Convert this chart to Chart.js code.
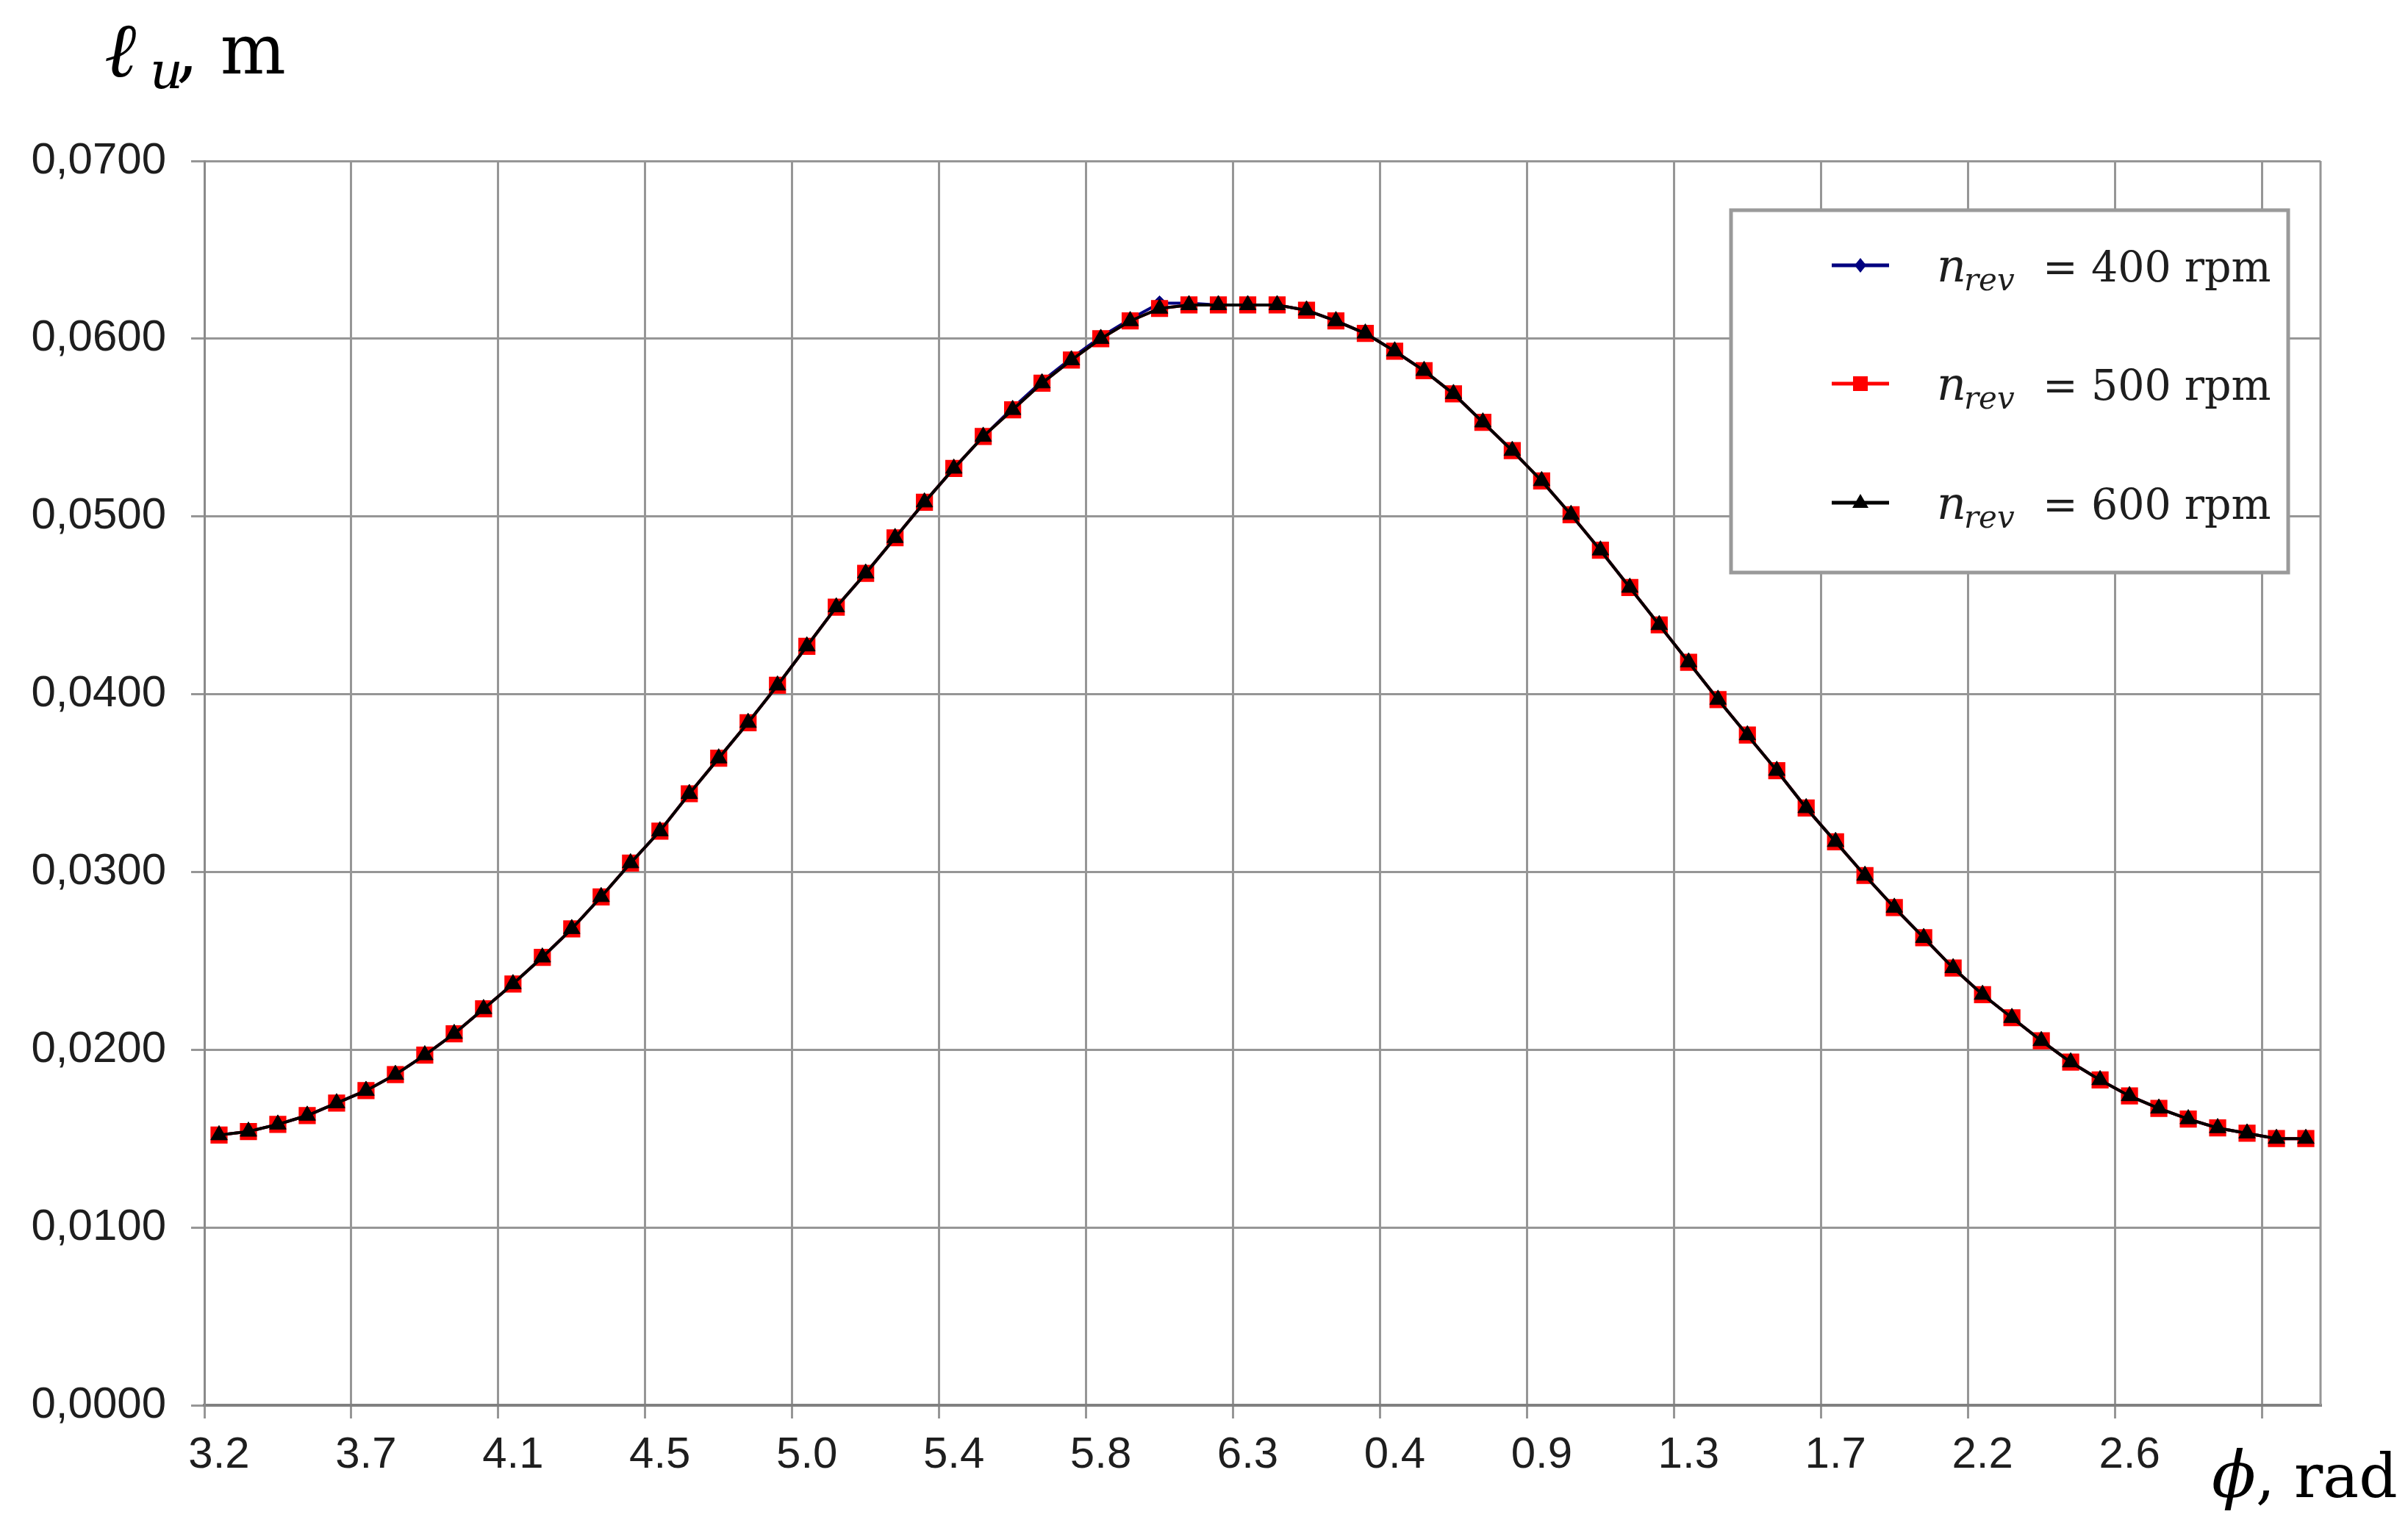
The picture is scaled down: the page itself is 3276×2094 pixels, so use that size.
<!DOCTYPE html>
<html>
<head>
<meta charset="utf-8">
<script src="https://cdn.jsdelivr.net/npm/chart.js@4.4.1/dist/chart.umd.min.js"></script>
<style>
  html, body { margin: 0; padding: 0; background: #fff; }
  #wrap { width: 3276px; height: 2094px; }
</style>
</head>
<body>
<div id="wrap"><canvas id="luChart" width="3276" height="2094"></canvas></div>
<script>
// phi, rad (category labels, only every 5th is shown)
const phiLabels = [
  '3.2','3.3','3.4','3.5','3.6','3.7','3.8','3.8','3.9','4.0',
  '4.1','4.2','4.3','4.4','4.5','4.5','4.6','4.7','4.8','4.9',
  '5.0','5.1','5.1','5.2','5.3','5.4','5.5','5.6','5.7','5.8',
  '5.8','5.9','6.0','6.1','6.2','6.3','0.1','0.2','0.3','0.3',
  '0.4','0.5','0.6','0.7','0.8','0.9','1.0','1.0','1.1','1.2',
  '1.3','1.4','1.5','1.6','1.7','1.7','1.8','1.9','2.0','2.1',
  '2.2','2.3','2.4','2.4','2.5','2.6','2.7','2.8','2.9','3.0',
  '3.1','3.1'
];

// l_u, m
const lu400 = [
  0.0152,0.0154,0.0158,0.0163,0.0170,0.0177,0.0186,0.0197,0.0209,0.0223,
  0.0237,0.0252,0.0268,0.0286,0.0305,0.0323,0.0344,0.0364,0.0384,0.0405,
  0.0427,0.0449,0.0468,0.0488,0.0508,0.0527,0.0545,0.0561,0.0576,0.0589,
  0.0601,0.0611,0.0620,0.0620,0.0619,0.0619,0.0619,0.0616,0.0610,0.0603,
  0.0593,0.0582,0.0569,0.0553,0.0537,0.0520,0.0501,0.0481,0.0460,0.0439,
  0.0418,0.0397,0.0377,0.0357,0.0336,0.0317,0.0298,0.0280,0.0263,0.0246,
  0.0231,0.0218,0.0205,0.0193,0.0183,0.0174,0.0167,0.0161,0.0156,0.0153,
  0.0150,0.0150
];
const lu500 = [
  0.0152,0.0154,0.0158,0.0163,0.0170,0.0177,0.0186,0.0197,0.0209,0.0223,
  0.0237,0.0252,0.0268,0.0286,0.0305,0.0323,0.0344,0.0364,0.0384,0.0405,
  0.0427,0.0449,0.0468,0.0488,0.0508,0.0527,0.0545,0.0560,0.0575,0.0588,
  0.0600,0.0610,0.0617,0.0619,0.0619,0.0619,0.0619,0.0616,0.0610,0.0603,
  0.0593,0.0582,0.0569,0.0553,0.0537,0.0520,0.0501,0.0481,0.0460,0.0439,
  0.0418,0.0397,0.0377,0.0357,0.0336,0.0317,0.0298,0.0280,0.0263,0.0246,
  0.0231,0.0218,0.0205,0.0193,0.0183,0.0174,0.0167,0.0161,0.0156,0.0153,
  0.0150,0.0150
];
const lu600 = [
  0.0152,0.0154,0.0158,0.0163,0.0170,0.0177,0.0186,0.0197,0.0209,0.0223,
  0.0237,0.0252,0.0268,0.0286,0.0305,0.0323,0.0344,0.0364,0.0384,0.0405,
  0.0427,0.0449,0.0468,0.0488,0.0508,0.0527,0.0545,0.0560,0.0575,0.0588,
  0.0600,0.0610,0.0617,0.0619,0.0619,0.0619,0.0619,0.0616,0.0610,0.0603,
  0.0593,0.0582,0.0569,0.0553,0.0537,0.0520,0.0501,0.0481,0.0460,0.0439,
  0.0418,0.0397,0.0377,0.0357,0.0336,0.0317,0.0298,0.0280,0.0263,0.0246,
  0.0231,0.0218,0.0205,0.0193,0.0183,0.0174,0.0167,0.0161,0.0156,0.0153,
  0.0150,0.0150
];
const rpmValues = ['400', '500', '600'];

const gridGrey = '#969696';
const textDark = '#1e1e1e';

// only every 5th category gets a gridline / tick mark
function everyFifth(ctx) {
  return (ctx.index !== undefined && ctx.index % 5 === 0) ? gridGrey : 'rgba(0,0,0,0)';
}

function drawMarker(ctx, style, color, x, y) {
  ctx.save();
  ctx.fillStyle = color;
  ctx.beginPath();
  if (style === 'rect') {
    ctx.rect(x - 10, y - 10, 20, 20);
  } else if (style === 'triangle') {
    ctx.moveTo(x, y - 12);
    ctx.lineTo(x + 11, y + 7);
    ctx.lineTo(x - 11, y + 7);
    ctx.closePath();
  } else {
    ctx.moveTo(x, y - 10);
    ctx.lineTo(x + 8, y);
    ctx.lineTo(x, y + 10);
    ctx.lineTo(x - 8, y);
    ctx.closePath();
  }
  ctx.fill();
  ctx.restore();
}

const decor = {
  id: 'decor',
  afterDraw(chart) {
    const ctx = chart.ctx;
    const area = chart.chartArea;
    ctx.save();

    // right border of plot area
    ctx.strokeStyle = gridGrey;
    ctx.lineWidth = 3;
    ctx.beginPath();
    ctx.moveTo(area.right, area.top);
    ctx.lineTo(area.right, area.bottom);
    ctx.stroke();

    // legend box
    const bx = 2355, by = 286, bw = 758, bh = 493;
    ctx.fillStyle = '#fff';
    ctx.fillRect(bx, by, bw, bh);
    ctx.strokeStyle = '#9a9a9a';
    ctx.lineWidth = 5;
    ctx.strokeRect(bx, by, bw, bh);

    const rowY = [361, 522, 684];
    const order = [2, 1, 0]; // dataset index for each row (400, 500, 600)
    ctx.textBaseline = 'alphabetic';
    for (let i = 0; i < 3; i++) {
      const ds = chart.data.datasets[order[i]];
      const y = rowY[i];
      ctx.strokeStyle = ds.borderColor;
      ctx.lineWidth = 5;
      ctx.beginPath();
      ctx.moveTo(2492, y);
      ctx.lineTo(2570, y);
      ctx.stroke();
      drawMarker(ctx, ds.pointStyle, ds.borderColor, 2531, y);

      ctx.fillStyle = textDark;
      ctx.font = 'italic 62px "DejaVu Serif"';
      ctx.fillText('n', 2635, y + 22);
      ctx.font = 'italic 42px "DejaVu Serif"';
      ctx.fillText('rev', 2672, y + 34);
      ctx.font = '57px "DejaVu Serif"';
      ctx.fillText('= ' + rpmValues[i] + ' rpm', 2779, y + 22);
    }

    // axis titles
    ctx.fillStyle = '#000';
    ctx.font = 'italic 104px "DejaVu Serif"';
    ctx.fillText('\u2113', 142, 104);
    ctx.font = 'italic 70px "DejaVu Serif"';
    ctx.fillText('u', 204, 120);
    ctx.font = '94px "DejaVu Serif"';
    ctx.fillText(', m', 240, 100);

    ctx.font = 'italic 88px "DejaVu Serif"';
    ctx.fillText('\u03D5', 3009, 2037);
    const pw = ctx.measureText('\u03D5').width;
    ctx.font = '82px "DejaVu Serif"';
    ctx.fillText(', rad', 3009 + pw, 2037);

    ctx.restore();
  }
};

const luChart = new Chart(document.getElementById('luChart'), {
  type: 'line',
  data: {
    labels: phiLabels,
    datasets: [{
      label: 'n_rev = 600 rpm',
      data: lu600,
      borderColor: '#000000',
      backgroundColor: '#000000',
      borderWidth: 4,
      pointStyle: 'triangle',
      pointRadius: 13,
      pointBorderWidth: 1,
      order: 1
    }, {
      label: 'n_rev = 500 rpm',
      data: lu500,
      borderColor: '#ff0000',
      backgroundColor: '#ff0000',
      borderWidth: 4,
      pointStyle: 'rect',
      pointRadius: 15,
      pointBorderWidth: 2,
      order: 2
    }, {
      label: 'n_rev = 400 rpm',
      data: lu400,
      borderColor: '#000080',
      backgroundColor: '#000080',
      borderWidth: 4,
      pointStyle: 'rectRot',
      pointRadius: 10,
      pointBorderWidth: 1,
      order: 3
    }]
  },
  options: {
    responsive: false,
    animation: false,
    devicePixelRatio: 1,
    layout: { padding: { top: 219, right: 119, left: 0, bottom: 0 } },
    plugins: {
      legend: { display: false },
      tooltip: { enabled: false }
    },
    elements: { line: { tension: 0 } },
    scales: {
      x: {
        type: 'category',
        offset: true,
        afterFit: (scale) => { scale.height = 182; },
        grid: {
          offset: true,
          color: everyFifth,
          tickColor: everyFifth,
          lineWidth: 3,
          tickLength: 18
        },
        border: { display: true, color: '#808080', width: 4 },
        ticks: {
          autoSkip: false,
          maxRotation: 0,
          minRotation: 0,
          padding: 14,
          color: textDark,
          font: { family: '"Liberation Sans", Arial', size: 60 },
          // labels every 5th category, none on the last one next to the axis title
          callback: function(value, index) {
            return (index % 5 === 0 && index < 70) ? this.getLabelForValue(value) : '';
          }
        }
      },
      y: {
        min: 0,
        max: 0.07,
        afterFit: (scale) => { scale.width = 278; },
        grid: {
          color: gridGrey,
          tickColor: gridGrey,
          lineWidth: 3,
          tickLength: 18
        },
        border: { display: true, color: '#8a8a8a', width: 3 },
        ticks: {
          stepSize: 0.01,
          padding: 34,
          color: textDark,
          font: { family: '"Liberation Sans", Arial', size: 60 },
          callback: (value) => value.toFixed(4).replace('.', ',')
        }
      }
    }
  },
  plugins: [decor]
});
</script>
</body>
</html>
